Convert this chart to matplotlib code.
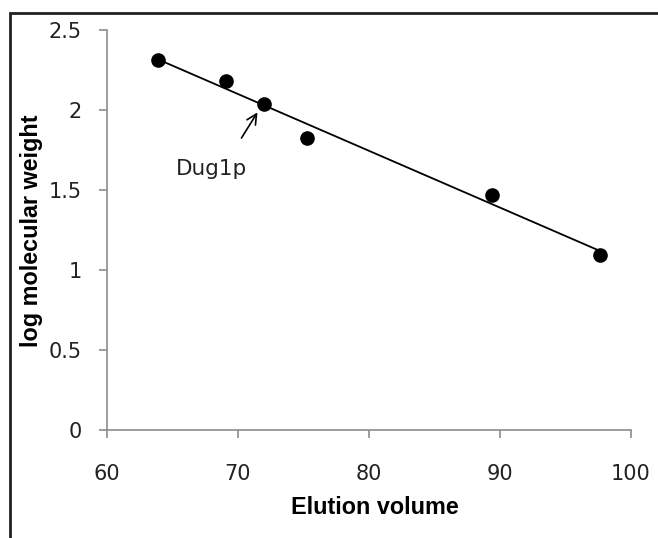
import numpy as np
import matplotlib
matplotlib.use("Agg")
import matplotlib.pyplot as plt
from matplotlib.patches import Rectangle

# --- data ---
elution = [63.9, 69.1, 72.0, 75.3, 89.4, 97.6]
log_mw = [2.31, 2.18, 2.04, 1.825, 1.47, 1.095]
x_ticks = [60, 70, 80, 90, 100]
y_ticks = [0, 0.5, 1, 1.5, 2, 2.5]
y_tick_labels = ["0", "0.5", "1", "1.5", "2", "2.5"]

# linear trendline through the standards
slope, intercept = np.polyfit(elution, log_mw, 1)
fit_x = np.array([min(elution), max(elution)])
fit_y = slope * fit_x + intercept

W, H = 658, 538
fig = plt.figure(figsize=(W / 100, H / 100), dpi=100)
ax = fig.add_axes([107 / W, 1 - 430 / H, (631 - 107) / W, (430 - 30) / H])

grey = "#8c8c8c"
ax.plot(fit_x, fit_y, color="black", lw=1.3, zorder=2)
ax.plot(elution, log_mw, "o", color="black", ms=9.5, zorder=3)

ax.set_xlim(60, 100)
ax.set_ylim(0, 2.5)
ax.set_xticks(x_ticks)
ax.set_yticks(y_ticks)
ax.set_yticklabels(y_tick_labels)
for s in ["top", "right"]:
    ax.spines[s].set_visible(False)
for s in ["left", "bottom"]:
    ax.spines[s].set_color(grey)
    ax.spines[s].set_linewidth(1.2)
ax.tick_params(axis="both", colors=grey, length=6, width=1.2, labelcolor="#222222",
               labelsize=15)
ax.tick_params(axis="x", pad=18.5)
ax.tick_params(axis="y", pad=12)

label_font = dict(family="Liberation Sans", fontsize=16.8, fontweight="bold")
ax.set_xlabel("Elution volume", **label_font)
ax.set_ylabel("log molecular weight", **label_font)
ax.xaxis.set_label_coords(0.5105, -0.165)
ax.yaxis.set_label_coords(-0.122, 0.4975)

# Dug1p annotation
ax.annotate("", xy=(71.6, 2.0), xytext=(70.15, 1.81),
            arrowprops=dict(arrowstyle="->", color="black", lw=1.2, mutation_scale=18))
ax.text(67.94, 1.594, "Dug1p", fontsize=15.5, color="#222222", ha="center", va="baseline")

# outer frame (clipped by the image edges on the right and bottom)
fig.patches.append(Rectangle((10 / W, -0.05), 1.1, 1 - 13 / H + 0.05,
                             transform=fig.transFigure, fill=False,
                             edgecolor="#222222", lw=2))

fig.savefig("out.png", dpi=100)
